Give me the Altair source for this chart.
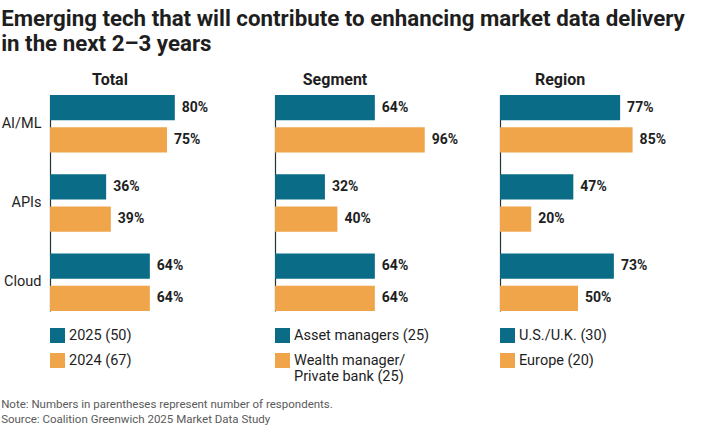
import altair as alt
import pandas as pd

# Survey results: share of respondents naming each technology
categories = ["AI/ML", "APIs", "Cloud"]

total_series = ["2025 (50)", "2024 (67)"]
total_2025 = [80, 36, 64]
total_2024 = [75, 39, 64]

segment_series = ["Asset managers (25)", "Wealth manager/ Private bank (25)"]
segment_asset = [64, 32, 64]
segment_wealth = [96, 40, 64]

region_series = ["U.S./U.K. (30)", "Europe (20)"]
region_us_uk = [77, 47, 73]
region_europe = [85, 20, 50]

TEAL = "#0A6C87"
ORANGE = "#F0A54B"
FONT = "Roboto"
INK = "#1E1E1E"

PANEL_W = 156
PANEL_H = 216


def frame(series, first, second):
    rows = []
    for cat, a, b in zip(categories, first, second):
        rows.append({"cat": cat, "series": series[0], "value": a})
        rows.append({"cat": cat, "series": series[1], "value": b})
    return pd.DataFrame(rows)


def panel(title, series, first, second, show_labels, label_expr=None):
    df = frame(series, first, second)
    y_axis = alt.Axis(
        title=None,
        labels=show_labels,
        ticks=False,
        domain=True,
        domainColor="#22333A",
        domainWidth=1.2,
        labelFont=FONT,
        labelFontSize=14.5,
        labelColor=INK,
        labelPadding=9,
    )
    legend_kw = dict(
        title=None,
        orient="none",
        legendX=0,
        legendY=PANEL_H + 17,
        direction="vertical",
        symbolType="square",
        symbolSize=225,
        symbolStrokeWidth=0,
        labelFont=FONT,
        labelFontSize=14.5,
        labelColor=INK,
        labelOffset=4,
        rowPadding=9,
        labelLimit=300,
    )
    if label_expr is not None:
        legend_kw["labelExpr"] = label_expr
    base = alt.Chart(df).encode(
        y=alt.Y(
            "cat:N",
            sort=categories,
            axis=y_axis,
            scale=alt.Scale(paddingInner=0.275, paddingOuter=0),
        ),
        yOffset=alt.YOffset(
            "series:N",
            sort=series,
            scale=alt.Scale(paddingInner=0.215, paddingOuter=0),
        ),
        x=alt.X("value:Q", axis=None, scale=alt.Scale(domain=[0, 100])),
    )
    bars = base.mark_bar().encode(
        color=alt.Color(
            "series:N",
            sort=series,
            scale=alt.Scale(domain=series, range=[TEAL, ORANGE]),
            legend=alt.Legend(**legend_kw),
        )
    )
    labels = base.mark_text(
        align="left",
        baseline="middle",
        dx=7,
        font=FONT,
        fontSize=14,
        fontWeight="bold",
        color=INK,
    ).encode(text=alt.Text("label:N")).transform_calculate(
        label="datum.value + '%'"
    )
    return (bars + labels).properties(
        width=PANEL_W,
        height=PANEL_H,
        title=alt.TitleParams(
            title,
            font=FONT,
            fontSize=16,
            fontWeight="bold",
            color=INK,
            anchor="middle",
            dx=-18,
            offset=7,
        ),
    )


total = panel("Total", total_series, total_2025, total_2024, True)
segment = panel(
    "Segment",
    segment_series,
    segment_asset,
    segment_wealth,
    False,
    label_expr="indexof(datum.label, 'Wealth') == 0 ? ['Wealth manager/', 'Private bank (25)'] : datum.label",
)
region = panel("Region", region_series, region_us_uk, region_europe, False)

panels = (
    alt.hconcat(total, segment, region, spacing=69, bounds="flush")
    .resolve_scale(color="independent", y="independent", yOffset="independent")
    .properties(
        title=alt.TitleParams(
            [
                "Note: Numbers in parentheses represent number of respondents.",
                "Source: Coalition Greenwich 2025 Market Data Study",
            ],
            orient="bottom",
            anchor="start",
            font=FONT,
            fontSize=11.5,
            fontWeight="normal",
            color="#5A5A5A",
            lineHeight=15,
            offset=15,
        )
    )
)

chart = (
    alt.vconcat(panels)
    .properties(
        title=alt.TitleParams(
            [
                "Emerging tech that will contribute to enhancing market data delivery",
                "in the next 2\u20133 years",
            ],
            anchor="start",
            font=FONT,
            fontSize=22.3,
            fontWeight="bold",
            color=INK,
            lineHeight=25,
            offset=17,
        ),
        padding={"left": 1, "top": 7, "right": 4, "bottom": 4},
    )
    .configure(background="white")
    .configure_view(strokeWidth=0, stroke="transparent")
)

chart.save("out.html", embed_options={"renderer": "svg", "actions": False})
